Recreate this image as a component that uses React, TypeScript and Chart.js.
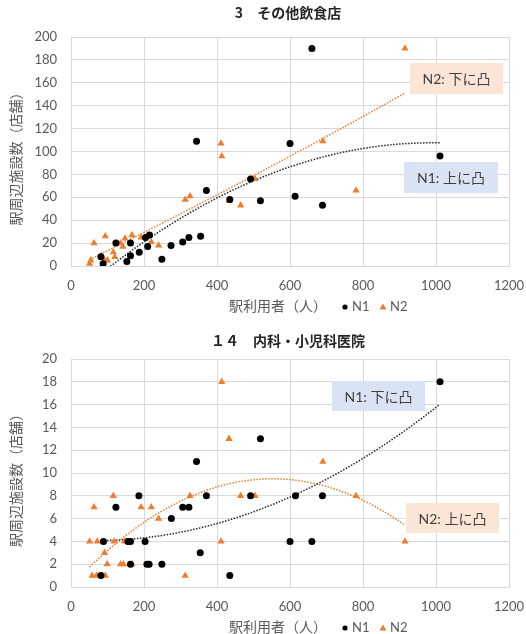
import React, { useEffect, useRef } from "react";
import { Chart, registerables } from "chart.js";

Chart.register(...registerables);

// ---------- data ----------
const xTickValues = [0, 200, 400, 600, 800, 1000, 1200];
const topTitle = "3　その他飲食店";
const bottomTitle = "１４　内科・小児科医院";
const xAxisTitle = "駅利用者（人）";
const yAxisTitle = "駅周辺施設数（店舗）";
const seriesNames = ["N1", "N2"];

const topN1X = [82, 88, 123, 153, 163, 163, 187, 204, 210, 215, 249, 274, 306, 323, 344, 355, 371, 435, 492, 519, 600, 614, 660, 689, 1011];
const topN1Y = [8, 2, 20, 4, 9, 20, 12, 25, 17, 27, 6, 18, 21, 25, 109, 26, 66, 58, 76, 57, 107, 61, 190, 53, 96];
const topN2X = [51, 54, 63, 83, 92, 94, 100, 116, 120, 135, 142, 148, 167, 192, 220, 240, 313, 326, 411, 413, 433, 465, 504, 690, 781, 915];
const topN2Y = [2, 5, 20, 9, 5, 26, 5, 12, 8, 20, 17, 24, 27, 25, 21, 18, 58, 61, 107, 96, 57, 53, 76, 109, 66, 190];

const botN1X = [82, 89, 123, 156, 163, 163, 186, 203, 208, 214, 249, 275, 306, 323, 344, 354, 371, 435, 492, 519, 600, 615, 660, 689, 1011];
const botN1Y = [1, 4, 7, 4, 4, 2, 8, 4, 2, 2, 2, 6, 7, 7, 11, 3, 8, 1, 8, 13, 4, 8, 4, 8, 18];
const botN2X = [51, 58, 63, 70, 72, 83, 92, 94, 99, 116, 118, 136, 144, 147, 167, 192, 220, 240, 313, 326, 411, 413, 433, 465, 504, 690, 781, 915];
const botN2Y = [4, 1, 7, 1, 4, 1, 3, 1, 2, 8, 4, 2, 2, 4, 2, 7, 7, 6, 1, 8, 4, 18, 13, 8, 8, 11, 8, 4];

const topNotes = { n1: "N1: 上に凸", n2: "N2: 下に凸" };
const bottomNotes = { n1: "N1: 下に凸", n2: "N2: 上に凸" };

// ---------- helpers ----------
const BLACK = "#000000";
const ORANGE = "#ED7D31";
const GRID = "#d9d9d9";
const TEXT = "#595959";
const FONT = 'Lato, "Noto Sans CJK JP", sans-serif';
const CJK = '"Noto Sans CJK JP", sans-serif';

function polyfit2(xs: number[], ys: number[]) {
  let s0 = 0, s1 = 0, s2 = 0, s3 = 0, s4 = 0, t0 = 0, t1 = 0, t2 = 0;
  for (let i = 0; i < xs.length; i++) {
    const x = xs[i], y = ys[i];
    s0 += 1; s1 += x; s2 += x * x; s3 += x * x * x; s4 += x * x * x * x;
    t0 += y; t1 += x * y; t2 += x * x * y;
  }
  const M = [
    [s0, s1, s2, t0],
    [s1, s2, s3, t1],
    [s2, s3, s4, t2],
  ];
  for (let c = 0; c < 3; c++) {
    let p = c;
    for (let r = c + 1; r < 3; r++) if (Math.abs(M[r][c]) > Math.abs(M[p][c])) p = r;
    [M[c], M[p]] = [M[p], M[c]];
    for (let r = 0; r < 3; r++) {
      if (r === c) continue;
      const f = M[r][c] / M[c][c];
      for (let k = c; k < 4; k++) M[r][k] -= f * M[c][k];
    }
  }
  return [M[0][3] / M[0][0], M[1][3] / M[1][1], M[2][3] / M[2][2]];
}

function trend(xs: number[], ys: number[]) {
  const [a, b, c] = polyfit2(xs, ys);
  const lo = Math.min(...xs), hi = Math.max(...xs);
  const pts = [];
  const n = 80;
  for (let i = 0; i <= n; i++) {
    const x = lo + ((hi - lo) * i) / n;
    pts.push({ x, y: a + b * x + c * x * x });
  }
  return pts;
}

const pts = (xs: number[], ys: number[]) => xs.map((x, i) => ({ x, y: ys[i] }));

type Box = { text: string; bg: string; x: number; y: number; w: number; h: number };

type PanelSpec = {
  title: string;
  titleY: number;
  padTop: number;
  xScaleHeight: number;
  xTickPad: number;
  xTitleY: number;
  yMax: number;
  yStep: number;
  n1x: number[]; n1y: number[]; n2x: number[]; n2y: number[];
  boxes: Box[];
};

function makeOverlay(spec: PanelSpec) {
  return {
    id: "overlay",
    afterDraw(chart: any) {
      const ctx = chart.ctx as CanvasRenderingContext2D;
      const a = chart.chartArea;
      ctx.save();
      // title
      ctx.fillStyle = "#262626";
      ctx.font = `bold 14px ${CJK}`;
      ctx.textAlign = "center";
      ctx.textBaseline = "middle";
      ctx.fillText(spec.title, 288, spec.titleY);
      // y title
      ctx.save();
      ctx.translate(16, (a.top + a.bottom) / 2 + 4);
      ctx.rotate(-Math.PI / 2);
      ctx.fillStyle = TEXT;
      ctx.font = `14px ${CJK}`;
      ctx.fillText(yAxisTitle, 0, 0);
      ctx.restore();
      // x title + legend
      ctx.fillStyle = TEXT;
      ctx.font = `14px ${CJK}`;
      ctx.textAlign = "center";
      ctx.fillText(xAxisTitle, 278, spec.xTitleY);
      ctx.font = `13px ${FONT}`;
      ctx.textAlign = "left";
      ctx.fillStyle = BLACK;
      ctx.beginPath();
      ctx.arc(345, spec.xTitleY + 1, 2.6, 0, Math.PI * 2);
      ctx.fill();
      ctx.fillStyle = TEXT;
      ctx.fillText(seriesNames[0], 352, spec.xTitleY + 1);
      ctx.fillStyle = ORANGE;
      ctx.beginPath();
      ctx.moveTo(383, spec.xTitleY - 2.5);
      ctx.lineTo(386.5, spec.xTitleY + 3.5);
      ctx.lineTo(379.5, spec.xTitleY + 3.5);
      ctx.closePath();
      ctx.fill();
      ctx.fillStyle = TEXT;
      ctx.fillText(seriesNames[1], 390, spec.xTitleY + 1);
      // boxes
      for (const b of spec.boxes) {
        ctx.fillStyle = b.bg;
        ctx.fillRect(b.x, b.y, b.w, b.h);
        ctx.fillStyle = "#404040";
        ctx.font = `14px ${FONT}`;
        ctx.textAlign = "center";
        ctx.fillText(b.text, b.x + b.w / 2, b.y + b.h / 2 + 1);
      }
      ctx.restore();
    },
  };
}

function Panel({ spec }: { spec: PanelSpec }) {
  const ref = useRef<HTMLCanvasElement>(null);
  useEffect(() => {
    if (!ref.current) return;
    const chart = new Chart(ref.current, {
      type: "scatter",
      data: {
        datasets: [
          {
            label: seriesNames[0],
            data: pts(spec.n1x, spec.n1y),
            backgroundColor: BLACK,
            borderColor: BLACK,
            pointStyle: "circle",
            pointRadius: 3.5,
            borderWidth: 0,
            order: 0,
          },
          {
            label: seriesNames[1],
            data: pts(spec.n2x, spec.n2y),
            backgroundColor: ORANGE,
            borderColor: ORANGE,
            pointStyle: "triangle",
            pointRadius: 4.2,
            borderWidth: 0,
            order: 1,
          },
          {
            label: "trend N1",
            data: trend(spec.n1x, spec.n1y),
            showLine: true,
            pointRadius: 0,
            borderColor: "#262626",
            borderWidth: 1.5,
            borderDash: [1.5, 1.5],
            order: 2,
          },
          {
            label: "trend N2",
            data: trend(spec.n2x, spec.n2y),
            showLine: true,
            pointRadius: 0,
            borderColor: ORANGE,
            borderWidth: 1.5,
            borderDash: [1.5, 1.5],
            order: 3,
          },
        ] as any,
      },
      options: {
        animation: false,
        responsive: false,
        devicePixelRatio: 1,
        layout: { padding: { top: spec.padTop, right: 17, left: 0, bottom: 0 } },
        plugins: { legend: { display: false }, tooltip: { enabled: false }, title: { display: false } },
        scales: {
          x: {
            type: "linear",
            min: 0,
            max: 1200,
            afterBuildTicks: (s: any) => {
              s.ticks = xTickValues.map((v) => ({ value: v }));
            },
            afterFit: (s: any) => {
              s.height = spec.xScaleHeight;
              s.paddingRight = 0;
              s.paddingLeft = 0;
            },
            ticks: {
              color: TEXT,
              font: { family: FONT, size: 13 },
              padding: spec.xTickPad,
              maxRotation: 0,
              callback: (v: any) => String(v),
            },
            grid: { color: GRID, drawTicks: false },
            border: { color: GRID },
          },
          y: {
            type: "linear",
            min: 0,
            max: spec.yMax,
            afterFit: (s: any) => {
              s.width = 71;
              s.paddingTop = 0;
              s.paddingBottom = 0;
            },
            ticks: {
              stepSize: spec.yStep,
              color: TEXT,
              font: { family: FONT, size: 13 },
              padding: 14,
              callback: (v: any) => String(v),
            },
            grid: { color: GRID, drawTicks: false },
            border: { color: GRID },
          },
        },
      },
      plugins: [makeOverlay(spec)],
    } as any);
    return () => chart.destroy();
  }, [spec]);
  return <canvas ref={ref} width={526} height={317} style={{ display: "block", width: 526, height: 317 }} />;
}

const topSpec: PanelSpec = {
  title: topTitle,
  titleY: 13,
  padTop: 37,
  xScaleHeight: 51,
  xTickPad: 12,
  xTitleY: 306,
  yMax: 200,
  yStep: 20,
  n1x: topN1X, n1y: topN1Y, n2x: topN2X, n2y: topN2Y,
  boxes: [
    { text: topNotes.n2, bg: "#FBE5D6", x: 410, y: 63, w: 93, h: 31 },
    { text: topNotes.n1, bg: "#DAE3F3", x: 404, y: 162, w: 94, h: 31 },
  ],
};

const bottomSpec: PanelSpec = {
  title: bottomTitle,
  titleY: 24,
  padTop: 42,
  xScaleHeight: 47,
  xTickPad: 12,
  xTitleY: 310,
  yMax: 20,
  yStep: 2,
  n1x: botN1X, n1y: botN1Y, n2x: botN2X, n2y: botN2Y,
  boxes: [
    { text: bottomNotes.n1, bg: "#DAE3F3", x: 332, y: 64, w: 93, h: 30 },
    { text: bottomNotes.n2, bg: "#FBE5D6", x: 406, y: 186, w: 93, h: 30 },
  ],
};

export default function App() {
  return (
    <div style={{ position: "absolute", left: 0, top: 0, width: 526, height: 634, background: "#fff" }}>
      <Panel spec={topSpec} />
      <Panel spec={bottomSpec} />
    </div>
  );
}
